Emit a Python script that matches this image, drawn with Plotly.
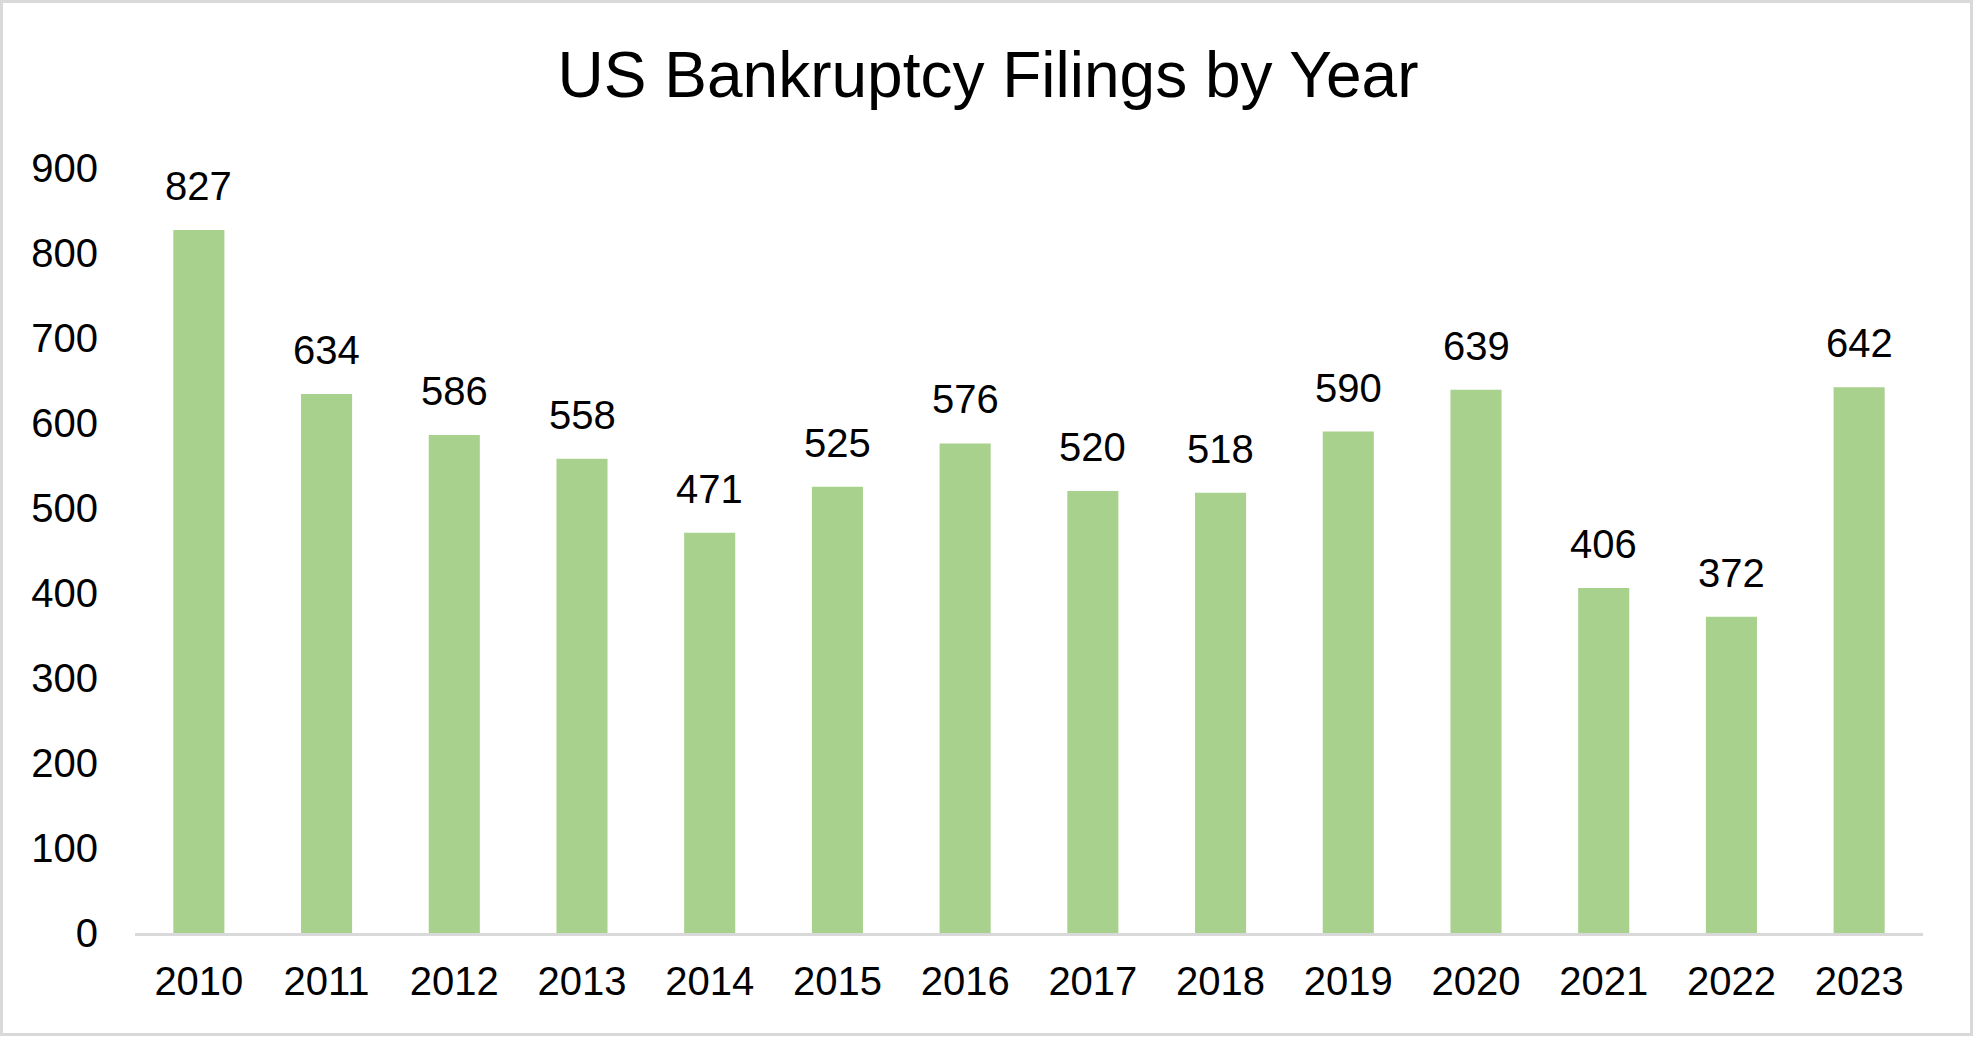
import plotly.graph_objects as go

years = [2010, 2011, 2012, 2013, 2014, 2015, 2016,
         2017, 2018, 2019, 2020, 2021, 2022, 2023]
filings = [827, 634, 586, 558, 471, 525, 576, 520, 518, 590, 639, 406, 372, 642]
y_ticks = [0, 100, 200, 300, 400, 500, 600, 700, 800, 900]

W, H = 1976, 1037
ML, MR, MT, MB = 135, 53, 168, 104
FONT = "Liberation Sans, Arial, sans-serif"

fig = go.Figure()
fig.add_trace(go.Bar(
    x=years, y=filings,
    marker=dict(color="#A9D18E", line=dict(width=0)),
    hoverinfo="x+y",
))

for yr, v in zip(years, filings):
    fig.add_annotation(
        x=yr, y=v, text=str(v), showarrow=False,
        yanchor="bottom", xanchor="center", yshift=20,
        font=dict(family=FONT, size=40, color="#000000"),
    )

pw = W - ML - MR
ph = H - MT - MB
fig.add_shape(
    type="rect", xref="paper", yref="paper",
    x0=(1.5 - ML) / pw, x1=(W - 4.5 - ML) / pw,
    y0=-(MB - 2.5) / ph,
    y1=1 + (MT - 1.5) / ph,
    line=dict(color="#D9D9D9", width=3),
    layer="below",
)

fig.update_layout(
    width=W, height=H,
    margin=dict(l=ML, r=MR, t=MT, b=MB, pad=0),
    paper_bgcolor="#FFFFFF", plot_bgcolor="#FFFFFF",
    bargap=0.6,
    showlegend=False,
    title=dict(
        text="US Bankruptcy Filings by Year",
        x=0.5, xref="container", xanchor="center",
        y=1 - 75.0 / H, yref="container", yanchor="middle",
        font=dict(family=FONT, size=64, color="#000000"),
    ),
    xaxis=dict(
        type="linear", range=[years[0] - 0.5, years[-1] + 0.5],
        tickvals=years, ticktext=[str(y) for y in years],
        showline=True, linecolor="#D9D9D9", linewidth=3,
        showgrid=False, zeroline=False,
        ticks="", ticklabelstandoff=11,
        tickfont=dict(family=FONT, size=40, color="#000000"),
    ),
    yaxis=dict(
        range=[0, 900], tickvals=y_ticks,
        showline=False, showgrid=False, zeroline=False,
        ticks="", ticklabelstandoff=36,
        tickfont=dict(family=FONT, size=40, color="#000000"),
    ),
)

fig.write_html("out.html", config={"displayModeBar": False},
               post_script="document.body.style.margin='0';")
